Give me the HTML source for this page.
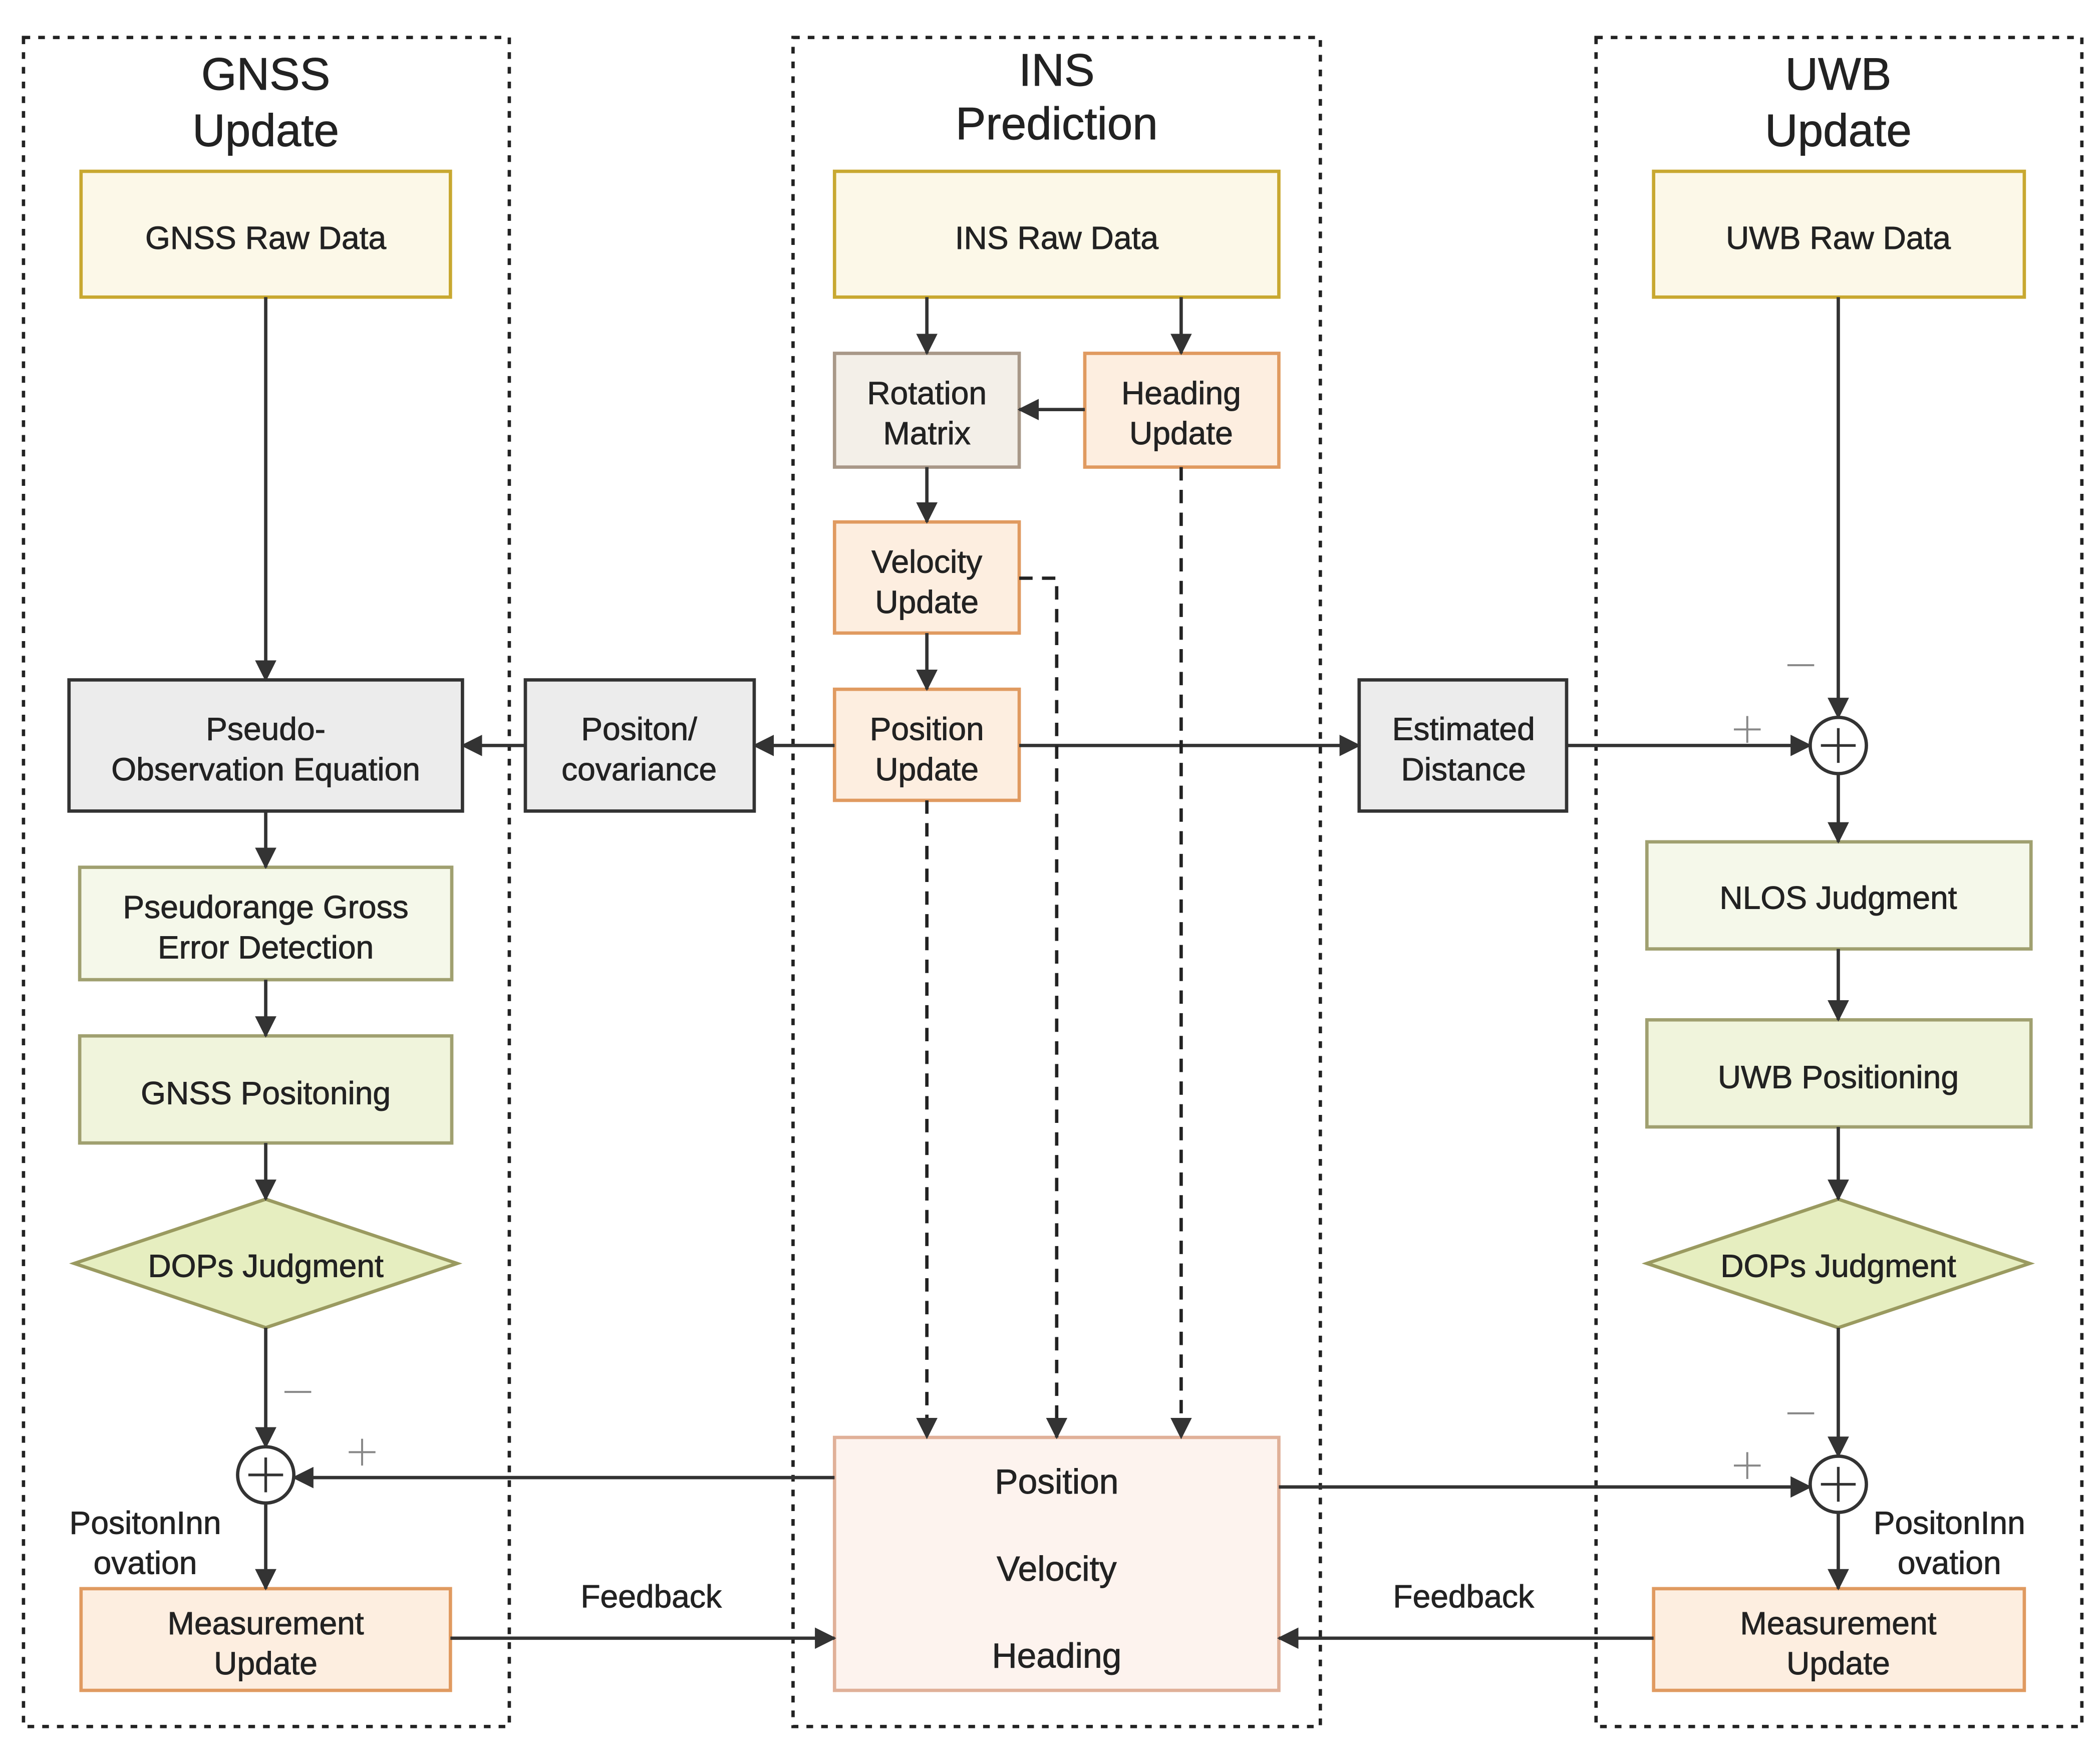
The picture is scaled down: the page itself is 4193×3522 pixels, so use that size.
<!DOCTYPE html>
<html><head><meta charset="utf-8"><style>
html,body{margin:0;padding:0;background:#fff;}
svg{display:block;}
text{font-family:"Liberation Sans",sans-serif;fill:#222;text-anchor:middle;stroke:#222;stroke-width:0.35;}
</style></head><body>
<svg width="4193" height="3522" viewBox="0 0 1568 1318" xmlns="http://www.w3.org/2000/svg">
<defs>
<marker id="ah" viewBox="0 0 12 12" refX="11" refY="6" markerWidth="16" markerHeight="16" orient="auto" markerUnits="userSpaceOnUse"><path d="M0,0 L12,6 L0,12 Z" fill="#333"/></marker>
</defs>
<rect width="1568" height="1318" fill="#fff"/>
<g fill="none" stroke="#222" stroke-width="2.5" stroke-dasharray="5,6">
<rect x="17" y="28" width="363" height="1262"/>
<rect x="592" y="28" width="394" height="1262"/>
<rect x="1192" y="28" width="363" height="1262"/>
</g>
<g font-size="34">
<text x="198" y="67">GNSS</text><text x="198" y="109">Update</text>
<text x="789" y="64">INS</text><text x="789" y="104">Prediction</text>
<text x="1373" y="67">UWB</text><text x="1373" y="109">Update</text>
</g>
<g stroke-width="2.5">
<rect x="60" y="128" width="276" height="94" fill="#fcf8e8" stroke="#c8a830"/>
<rect x="623" y="128" width="332" height="94" fill="#fcf8e8" stroke="#c8a830"/>
<rect x="1235" y="128" width="277" height="94" fill="#fcf8e8" stroke="#c8a830"/>
<rect x="623" y="264" width="138" height="85" fill="#f3efe8" stroke="#a89888"/>
<rect x="810" y="264" width="145" height="85" fill="#fdeee0" stroke="#e09a60"/>
<rect x="623" y="390" width="138" height="83" fill="#fdeee0" stroke="#e09a60"/>
<rect x="623" y="515" width="138" height="83" fill="#fdeee0" stroke="#e09a60"/>
<rect x="51" y="508" width="294" height="98" fill="#ececec" stroke="#333"/>
<rect x="392" y="508" width="171" height="98" fill="#ececec" stroke="#333"/>
<rect x="1015" y="508" width="155" height="98" fill="#ececec" stroke="#333"/>
<rect x="1230" y="629" width="287" height="80" fill="#f5f8ea" stroke="#a0a070"/>
<rect x="1230" y="762" width="287" height="80" fill="#f0f4dc" stroke="#a0a070"/>
<rect x="59" y="648" width="278" height="84" fill="#f5f8ea" stroke="#a0a070"/>
<rect x="59" y="774" width="278" height="80" fill="#f0f4dc" stroke="#a0a070"/>
<polygon points="55,944 198,896 341,944 198,992" fill="#e6eec0" stroke="#9a9a60"/>
<polygon points="1230,944 1373,896 1516,944 1373,992" fill="#e6eec0" stroke="#9a9a60"/>
<rect x="60" y="1187" width="276" height="76" fill="#fdeee0" stroke="#e09a60"/>
<rect x="1235" y="1187" width="277" height="76" fill="#fdeee0" stroke="#e09a60"/>
<rect x="623" y="1074" width="332" height="189" fill="#fdf3ee" stroke="#e0b098"/>
</g>
<g fill="#fff" stroke="#333" stroke-width="2.5">
<circle cx="1373" cy="557" r="21"/><circle cx="198" cy="1102" r="21"/><circle cx="1373" cy="1109" r="21"/>
</g>
<g stroke="#333" stroke-width="2">
<path d="M1360,557h26M1373,544v26M185,1102h26M198,1089v26M1360,1109h26M1373,1096v26"/>
</g>
<g font-size="24">
<text x="198" y="186">GNSS Raw Data</text>
<text x="789" y="186">INS Raw Data</text>
<text x="1373" y="186">UWB Raw Data</text>
<text x="692" y="302">Rotation</text><text x="692" y="332">Matrix</text>
<text x="882" y="302">Heading</text><text x="882" y="332">Update</text>
<text x="692" y="428">Velocity</text><text x="692" y="458">Update</text>
<text x="692" y="553">Position</text><text x="692" y="583">Update</text>
<text x="198" y="553">Pseudo-</text><text x="198" y="583">Observation Equation</text>
<text x="477" y="553">Positon/</text><text x="477" y="583">covariance</text>
<text x="1093" y="553">Estimated</text><text x="1093" y="583">Distance</text>
<text x="1373" y="679">NLOS Judgment</text>
<text x="1373" y="813">UWB Positioning</text>
<text x="198" y="686">Pseudorange Gross</text><text x="198" y="716">Error Detection</text>
<text x="198" y="825">GNSS Positoning</text>
<text x="198" y="954">DOPs Judgment</text>
<text x="1373" y="954">DOPs Judgment</text>
<text x="198" y="1221">Measurement</text><text x="198" y="1251">Update</text>
<text x="1373" y="1221">Measurement</text><text x="1373" y="1251">Update</text>
<text x="108" y="1146">PositonInn</text><text x="108" y="1176">ovation</text>
<text x="1456" y="1146">PositonInn</text><text x="1456" y="1176">ovation</text>
<text x="486" y="1201">Feedback</text>
<text x="1093" y="1201">Feedback</text>
</g>
<g font-size="26">
<text x="789" y="1116">Position</text>
<text x="789" y="1181">Velocity</text>
<text x="789" y="1246">Heading</text>
</g>
<g stroke="#888" stroke-width="1.5" fill="none">
<path d="M1335,497h20M1295,545h20M1305,535v20M212,1040h20M260,1085h20M270,1075v20M1335,1056h20M1295,1095h20M1305,1085v20"/>
</g>
<g stroke="#333" stroke-width="2.5" fill="none" marker-end="url(#ah)">
<path d="M198,222V508"/>
<path d="M692,222V264"/><path d="M882,222V264"/>
<path d="M810,306H761"/>
<path d="M692,349V390"/><path d="M692,473V515"/>
<path d="M623,557H563"/><path d="M392,557H345"/>
<path d="M761,557H1015"/><path d="M1170,557H1352"/>
<path d="M1373,222V536"/>
<path d="M1373,578V629"/><path d="M1373,709V762"/><path d="M1373,842V896"/>
<path d="M1373,992V1088"/><path d="M1373,1130V1187"/>
<path d="M955,1111H1352"/>
<path d="M1235,1224H955"/>
<path d="M336,1224H623"/>
<path d="M623,1104H219"/>
<path d="M198,606V648"/><path d="M198,732V774"/><path d="M198,854V896"/>
<path d="M198,992V1081"/><path d="M198,1123V1187"/>
</g>
<g stroke="#222" stroke-width="2.5" fill="none" stroke-dasharray="10,7" marker-end="url(#ah)">
<path d="M692,598V1074"/>
<path d="M761,432H789V1074"/>
<path d="M882,349V1074"/>
</g>
</svg>
</body></html>
